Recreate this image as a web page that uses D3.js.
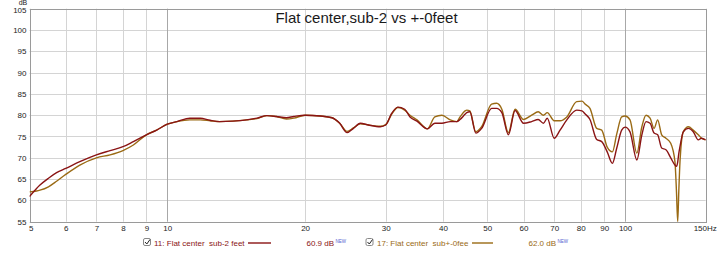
<!DOCTYPE html>
<html><head><meta charset="utf-8">
<script src="https://cdn.jsdelivr.net/npm/d3@7/dist/d3.min.js"></script>
<style>
html,body{margin:0;padding:0;background:#fff;}
svg{display:block;}
text{font-family:"Liberation Sans",Arial,sans-serif;white-space:pre;}
</style></head>
<body>
<svg id="chart" width="720" height="253"></svg>
<script>
const freqs = [5.0,5.18,5.27,5.5,5.73,6.0,6.44,7.0,7.5,8.0,8.43,9.0,9.48,10,10.5,11.2,11.8,12.4,13.0,13.9,14.9,15.7,16.5,17.3,18.2,18.9,20,21.6,22.9,23.8,24.7,25.5,26.4,27.5,29.2,30,30.9,31.9,33.0,33.9,35.1,37.0,38.4,39.8,41.5,42.9,43.6,44.7,45.1,45.8,47.2,48.6,51.1,52.4,53.8,55.6,57.5,60,62.5,64.6,66.3,67.6,70,72.1,74.6,78.4,80.5,81.8,83.8,86.7,88.9,91.4,93.8,95.9,98.3,100,102.5,106.1,108.8,111.1,113.4,115.7,117.8,120.2,122.8,125.8,128.5,129.5,130.3,131.0,131.8,134.0,137.5,140.9,144.5,146.9,150];
const sub2Feet = [60.9,62.8,63.6,65.2,66.5,67.5,69.1,70.7,71.7,72.6,73.8,75.4,76.5,77.9,78.5,79.3,79.3,78.8,78.5,78.6,78.9,79.3,79.9,79.7,79.4,79.7,80.0,79.8,79.4,78.1,75.9,76.9,78.1,77.7,77.3,77.7,80.4,81.9,81.4,79.6,78.6,76.8,78.1,78.1,78.5,78.5,79.0,80.2,80.6,80.8,75.8,76.9,81.6,81.6,80.6,75.4,81.1,78.1,78.5,79.0,78.1,79.3,74.6,76.5,78.9,81.2,81.0,80.3,79.0,74.3,73.8,71.4,68.7,72.3,76.5,77.2,76.1,69.5,75.4,78.5,78.1,75.8,75.4,72.3,71.9,70.0,68.3,68.0,69.0,71.0,72.6,76.1,76.9,76.1,74.2,74.6,74.2];
const sub0Feet = [62.0,62.2,62.4,63.2,64.5,66.1,68.3,70.0,70.7,71.7,73.0,75.4,76.5,77.9,78.5,78.9,78.9,78.7,78.5,78.6,78.9,79.2,79.9,79.7,79.1,79.3,80.0,79.8,79.4,78.1,76.2,77.0,78.0,77.7,77.4,77.8,80.2,81.8,81.2,80.0,78.9,76.8,79.6,80.0,78.9,78.5,79.6,81.0,81.2,81.0,76.1,77.3,82.6,82.8,81.4,75.9,81.4,79.0,80.0,80.8,80.0,80.6,78.7,78.7,79.6,83.2,83.3,82.6,81.6,76.9,76.5,72.5,71.4,75.6,79.6,79.8,78.9,71.1,77.3,80.0,79.3,76.9,78.9,75.4,74.6,73.4,69.1,62.0,55.0,62.0,69.0,76.1,77.3,76.5,75.4,74.6,74.2];
const yTicks = [55,60,65,70,75,80,85,90,95,100,105];
const xTicks = [5,6,7,8,9,10,20,30,40,50,60,70,80,90,100,150];
const xTickLabels = ["5","6","7","8","9","10","20","30","40","50","60","70","80","90","100","150Hz"];
const seriesNames = ["11: Flat center  sub-2 feet","17: Flat center  sub+-0fee"];
const seriesLevels = ["60.9 dB","62.0 dB"];
const titleText = "Flat center,sub-2 vs +-0feet";

const colors = ["#8a1414","#9a6a14"];
const svg = d3.select("#chart");
const L = 29.5, R = 705.7, T = 8.7, B = 221.7;
const x = d3.scaleLog().domain([5,150]).range([L,R]);
const y = d3.scaleLinear().domain([55,105]).range([B,T]);

// grid
const g = svg.append("g");
g.selectAll("line.h").data(yTicks).enter().append("line")
  .attr("x1",L).attr("x2",R).attr("y1",d=>Math.round(y(d))+0.5).attr("y2",d=>Math.round(y(d))+0.5)
  .attr("stroke","#d4d4d4").attr("stroke-width",1);
g.selectAll("line.v").data(xTicks).enter().append("line")
  .attr("y1",T).attr("y2",B).attr("x1",d=>Math.round(x(d))+0.5).attr("x2",d=>Math.round(x(d))+0.5)
  .attr("stroke",d=>(d===10||d===100)?"#a8a8a8":"#d4d4d4").attr("stroke-width",1);
svg.append("rect").attr("x",Math.round(L)+0.5).attr("y",Math.round(T)+0.5)
  .attr("width",Math.round(R)-Math.round(L)).attr("height",Math.round(B)-Math.round(T))
  .attr("fill","none").attr("stroke","#9a9a9a").attr("stroke-width",1);

// axes
const yAxis = d3.axisLeft(y).tickValues(yTicks).tickSize(0).tickPadding(3);
const ya = svg.append("g").attr("transform",`translate(${L},0)`).call(yAxis);
ya.select(".domain").remove();
ya.selectAll("text").attr("font-size","8px").attr("fill","#222").attr("font-family","Liberation Sans, Arial, sans-serif");
ya.selectAll(".tick").filter(d=>d===105).select("text").attr("dy","0.45em");

const xAxis = d3.axisBottom(x).tickValues(xTicks).tickSize(0).tickPadding(4)
  .tickFormat((d,i)=>xTickLabels[i]);
const xa = svg.append("g").attr("transform",`translate(0,${B})`).call(xAxis);
xa.select(".domain").remove();
xa.selectAll("text").attr("font-size","8px").attr("fill","#222").attr("font-family","Liberation Sans, Arial, sans-serif");
xa.selectAll(".tick").filter((d,i)=>i===0).select("text").attr("text-anchor","start").attr("dx",-1);
xa.selectAll(".tick").filter((d,i)=>i===xTicks.length-1).select("text").attr("text-anchor","middle").attr("dx",-1);

svg.append("text").attr("x",23).attr("y",5).attr("text-anchor","middle")
  .attr("font-size","7px").attr("fill","#222").text("dB");

// title
svg.append("text").attr("x",366.5).attr("y",23).attr("text-anchor","middle")
  .attr("font-size","15px").attr("fill","#1a1a1a").attr("font-family","Lato, Liberation Sans, sans-serif").text(titleText);

// lines
const line = d3.line().x(d=>x(d[0])).y(d=>y(d[1])).curve(d3.curveMonotoneX);
svg.append("clipPath").attr("id","pc").append("rect").attr("x",L).attr("y",T).attr("width",R-L).attr("height",B-T);
const seriesVals = [sub0Feet, sub2Feet];
const seriesCols = [colors[1], colors[0]];
seriesVals.forEach((vals,k)=>{
  svg.append("path").datum(freqs.map((f,i)=>[f,vals[i]]))
    .attr("d",line).attr("fill","none").attr("stroke",seriesCols[k])
    .attr("stroke-width",1.4).attr("stroke-linejoin","round").attr("clip-path","url(#pc)");
});

// legend
const legX = [143, 365.5];
const nameX = [154, 377];
const lineX = [[248,271],[472,493]];
const lvlX = [306.5, 528.5];
const ly = 246;
[0,1].forEach(k=>{
  const lg = svg.append("g");
  lg.append("rect").attr("x",legX[k]+0.5).attr("y",ly-7.5).attr("width",7).attr("height",7)
    .attr("fill","#fff").attr("stroke","#888").attr("rx",1.5);
  lg.append("path").attr("d",`M${legX[k]+2},${ly-4} l1.8,2 l3.2,-4.5`).attr("fill","none").attr("stroke","#222").attr("stroke-width",1);
  lg.append("text").attr("x",nameX[k]).attr("y",ly).attr("font-size","8px").attr("fill",colors[k]).text(seriesNames[k]);
  lg.append("line").attr("x1",lineX[k][0]).attr("x2",lineX[k][1]).attr("y1",ly-3).attr("y2",ly-3)
    .attr("stroke",colors[k]).attr("stroke-width",1.4);
  lg.append("text").attr("x",lvlX[k]).attr("y",ly).attr("font-size","8px").attr("fill",colors[k]).text(seriesLevels[k]);
  lg.append("text").attr("x",lvlX[k]+29).attr("y",ly-3).attr("font-size","4.5px").attr("fill","#5560d0").text("NEW");
});
</script>
</body></html>
